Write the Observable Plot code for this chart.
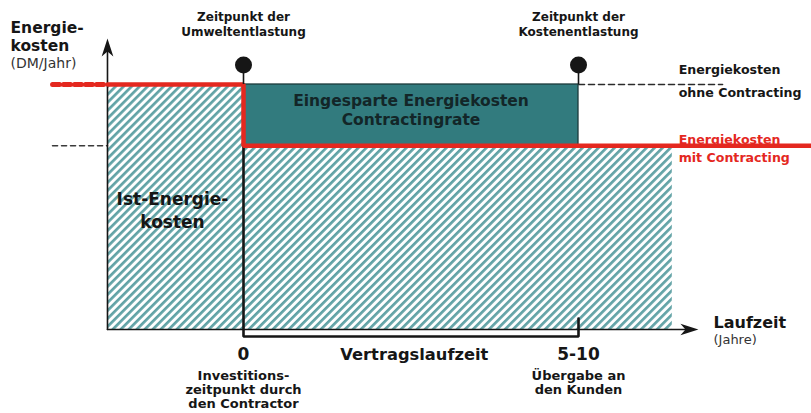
<!DOCTYPE html>
<html><head><meta charset="utf-8">
<script src="https://cdn.jsdelivr.net/npm/d3@7"></script>
<script src="https://cdn.jsdelivr.net/npm/@observablehq/plot@0.6"></script>
<style>body{margin:0;background:#fff;} svg{display:block;background:#fff}</style>
</head><body><div id="chart"></div>
<script>
// ---- data (conceptual units: x = years of contract, y = energy cost index) ----
const contractYears = [0, 10];               // investment time, hand-over time
const yearTickLabels = ["0", "5-10"];
const costWithout = 100;                      // Energiekosten ohne Contracting
const costWith = 75;                          // Energiekosten mit Contracting
const topLabels = ["Zeitpunkt der\nUmweltentlastung", "Zeitpunkt der\nKostenentlastung"];
const bottomLabels = ["Investitions-\nzeitpunkt durch\nden Contractor", "Übergabe an\nden Kunden"];
const boxLabel = ["Eingesparte Energiekosten\nContractingrate"];
const areaLabel = ["Ist-Energie-\nkosten"];
const rightLabels = ["Energiekosten\nohne Contracting", "Energiekosten\nmit Contracting"];

// ---- layout helpers (in data units) ----
const yAxisAt = -4.06, xAxisEnd = 13.58, yAxisEnd = 118.8;
const leftEdge = -5.7, rightEdge = 17.2, hatchEnd = 12.8, dashEnd = 14.3;

const red = "#e4281f", teal = "#327b7e", hatchCol = "#62a3a6", ink = "#161616";
const font = "DejaVu Sans";

const stealth = {
  draw(ctx, size) {
    const r = Math.sqrt(size / Math.PI), L = 2 * r, w = 0.65 * r;
    ctx.moveTo(0, 0); ctx.lineTo(w, L); ctx.lineTo(0, 0.72 * L); ctx.lineTo(-w, L); ctx.closePath();
  }
};

const hatchRects = [
  {x1: yAxisAt, x2: contractYears[0], y1: 0, y2: costWithout},
  {x1: contractYears[0], x2: hatchEnd, y1: 0, y2: costWith}
];
const redPath = [
  {x: yAxisAt, y: costWithout}, {x: contractYears[0], y: costWithout},
  {x: contractYears[0], y: costWith}, {x: rightEdge, y: costWith}
];
const bracket = [
  {x: contractYears[0], y: costWithout}, {x: contractYears[0], y: -2.86},
  {x: contractYears[1], y: -2.86}, {x: contractYears[1], y: 4.5}
];

const svg = Plot.plot({
  width: 811, height: 413,
  marginTop: 0, marginBottom: 0, marginLeft: 0, marginRight: 0,
  x: {domain: [0, 10], range: [243, 578], axis: null},
  y: {domain: [0, 100], range: [329, 84], axis: null},
  style: {fontFamily: font, background: "#fff"},
  marks: [
    Plot.rect(hatchRects, {x1: "x1", x2: "x2", y1: "y1", y2: "y2", fill: "url(#hatch)"}),
    // dashed reference lines
    Plot.line([{x: leftEdge, y: costWith}, {x: yAxisAt, y: costWith}], {x: "x", y: "y", stroke: "#3a3a3a", strokeWidth: 1.6, strokeDasharray: "5,4"}),
    Plot.line([{x: contractYears[1], y: costWithout}, {x: dashEnd, y: costWithout}], {x: "x", y: "y", stroke: "#2a2a2a", strokeWidth: 1.6, strokeDasharray: "6,4"}),
    // savings box
    Plot.rect([{x1: contractYears[0], x2: contractYears[1], y1: costWith, y2: costWithout}], {x1: "x1", x2: "x2", y1: "y1", y2: "y2", fill: teal, stroke: "#1c3a3b", strokeWidth: 1.3}),
    // contract bracket
    Plot.line(bracket, {x: "x", y: "y", stroke: ink, strokeWidth: 2.6, strokeLinejoin: "miter"}),
    // axes
    Plot.line([{x: yAxisAt, y: 0}, {x: yAxisAt, y: yAxisEnd - 3}], {x: "x", y: "y", stroke: ink, strokeWidth: 1.6}),
    Plot.line([{x: yAxisAt, y: 0}, {x: xAxisEnd - 0.2, y: 0}], {x: "x", y: "y", stroke: ink, strokeWidth: 1.6}),
    Plot.dot([{x: yAxisAt, y: yAxisEnd}], {x: "x", y: "y", symbol: stealth, r: 9, fill: ink, stroke: "none"}),
    Plot.dot([{x: xAxisEnd, y: 0}], {x: "x", y: "y", symbol: stealth, r: 9, fill: ink, stroke: "none", rotate: 90}),
    // red cost line
    Plot.line([{x: leftEdge, y: costWithout}, {x: yAxisAt, y: costWithout}], {x: "x", y: "y", stroke: red, strokeWidth: 5, strokeDasharray: "7,4"}),
    Plot.line(redPath, {x: "x", y: "y", stroke: red, strokeWidth: 4.5, strokeLinejoin: "miter"}),
    // pins
    Plot.ruleX(contractYears, {x: d => d, y1: costWithout, y2: 108, stroke: ink, strokeWidth: 1.6}),
    Plot.dot(contractYears, {x: d => d, y: 108, r: 8.5, fill: ink, stroke: "none"}),
    // texts
    Plot.text(["Energie-\nkosten"], {x: -6.955, y: 113.7, text: d => d, textAnchor: "start", lineAnchor: "bottom", lineHeight: 1.13, fontSize: 15.5, fontWeight: "bold", fill: ink}),
    Plot.text(["(DM/Jahr)"], {x: -6.955, y: 106.9, text: d => d, textAnchor: "start", lineAnchor: "bottom", fontSize: 14, fill: "#333"}),
    Plot.text(topLabels, {x: (d, i) => contractYears[i], y: 120, text: d => d, lineAnchor: "bottom", lineHeight: 1.25, fontSize: 12, fontWeight: "bold", fill: ink}),
    Plot.text(boxLabel, {x: 5, y: 83.3, text: d => d, lineAnchor: "bottom", lineHeight: 1.23, fontSize: 15.5, fontWeight: "bold", fill: "#132628"}),
    Plot.text(areaLabel, {x: -2.12, y: 41.6, text: d => d, lineAnchor: "bottom", lineHeight: 1.35, fontSize: 17, fontWeight: "bold", fill: ink}),
    Plot.text([rightLabels[0]], {x: 12.99, y: 94.9, text: d => d, textAnchor: "start", lineAnchor: "bottom", lineHeight: 1.8, fontSize: 12.6, fontWeight: "bold", fill: ink}),
    Plot.text([rightLabels[1]], {x: 12.99, y: 68.2, text: d => d, textAnchor: "start", lineAnchor: "bottom", lineHeight: 1.5, fontSize: 12.6, fontWeight: "bold", fill: red}),
    Plot.text(yearTickLabels, {x: (d, i) => contractYears[i], y: -12.65, text: d => d, lineAnchor: "bottom", fontSize: 17, fontWeight: "bold", fill: ink}),
    Plot.text(["Vertragslaufzeit"], {x: 5.1, y: -12.65, text: d => d, lineAnchor: "bottom", fontSize: 16.3, fontWeight: "bold", fill: ink}),
    Plot.text(bottomLabels, {x: (d, i) => contractYears[i], y: (d, i) => i === 0 ? -32.2 : -26.5, text: d => d, lineAnchor: "bottom", lineHeight: 1.08, fontSize: 13, fontWeight: "bold", fill: ink}),
    Plot.text(["Laufzeit"], {x: 14.03, y: 0.41, text: d => d, textAnchor: "start", lineAnchor: "bottom", fontSize: 16, fontWeight: "bold", fill: ink}),
    Plot.text(["(Jahre)"], {x: 14.03, y: -6.1, text: d => d, textAnchor: "start", lineAnchor: "bottom", fontSize: 13, fill: "#333"})
  ]
});

// hatch pattern definition
const defs = d3.select(svg).insert("defs", ":first-child");
const pat = defs.append("pattern").attr("id", "hatch").attr("patternUnits", "userSpaceOnUse")
  .attr("width", 5.66).attr("height", 10).attr("patternTransform", "rotate(45)");
pat.append("rect").attr("width", 5.66).attr("height", 10).attr("fill", "#fff");
pat.append("rect").attr("width", 2.7).attr("height", 10).attr("fill", hatchCol);

document.getElementById("chart").appendChild(svg);
</script>
</body></html>
